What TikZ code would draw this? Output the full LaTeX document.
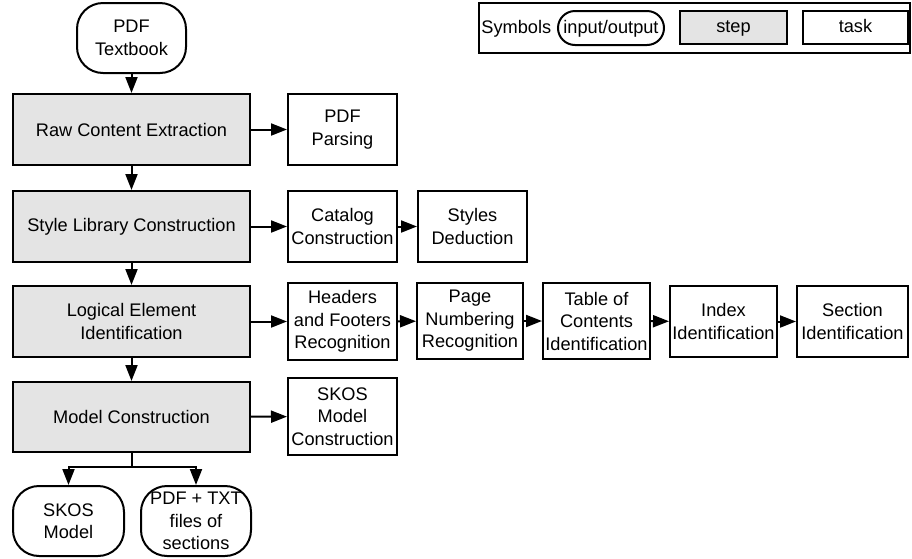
\documentclass[tikz,border=0pt]{standalone}
\usepackage{fontspec}
\setmainfont{Liberation Sans}
\usetikzlibrary{arrows.meta}
\definecolor{stepfill}{RGB}{228,228,228}
\begin{document}
\begin{tikzpicture}[
  x=0.5pt, y=-0.5pt,
  every node/.style={font=\fontsize{9.1}{11.25}\selectfont, align=center, inner sep=0pt},
  boxline/.style={draw=black, line width=1pt},
  stepbox/.style={boxline, fill=stepfill, minimum width=118.5pt, minimum height=35.5pt},
  taskbox/.style={boxline, fill=white, minimum width=54.5pt, minimum height=35.5pt},
  iobox/.style={boxline, fill=white, rounded corners=13pt, minimum width=54.5pt, minimum height=35pt},
  legtext/.style={text height=7pt, text depth=2pt},
  flow/.style={line width=1pt, -{Triangle[length=8pt,width=6pt]}},
  plain/.style={line width=1pt}
]
\useasboundingbox (0,0) rectangle (912,558);

% main column of steps
\node[iobox] (tb) at (131.5,38) {PDF\\Textbook};
\node[stepbox] (raw) at (131.5,129.5) {Raw Content Extraction};
\node[stepbox] (style) at (131.5,226.5) {Style Library Construction};
\node[stepbox] (logic) at (131.5,321.5) {Logical Element\\Identification};
\node[stepbox, minimum height=35pt] (model) at (131.5,417) {Model Construction};

% tasks of each step
\node[taskbox] (parse) at (342.5,129.5) {PDF\\Parsing};
\node[taskbox] (catalog) at (342.5,226.5) {Catalog\\Construction};
\node[taskbox] (deduct) at (472.5,226.5) {Styles\\Deduction};
\node[taskbox, minimum height=38.5pt] (headers) at (342.5,321.5) {Headers\\and Footers\\Recognition};
\node[taskbox, minimum width=53pt, minimum height=38pt] (pagenum) at (470,321) {Page\\Numbering\\Recognition};
\node[taskbox, minimum width=53.5pt, minimum height=38pt] (toc) at (596.5,321) {Table of\\Contents\\Identification};
\node[taskbox, minimum width=53.5pt] (index) at (723.5,321.5) {Index\\Identification};
\node[taskbox, minimum width=55.5pt] (section) at (852.5,321.5) {Section\\Identification};
\node[taskbox, minimum height=38.5pt] (skosmc) at (342.5,416.5) {SKOS\\Model\\Construction};

% outputs
\node[iobox, minimum width=55.5pt] (skosm) at (68.5,521) {SKOS\\Model};
\node[iobox, minimum width=55pt] (pdftxt) at (196,521) {PDF + TXT\\files of\\sections};

% connectors
\draw[flow] (tb) -- (raw);
\draw[flow] (raw) -- (style);
\draw[flow] (style) -- (logic);
\draw[flow] (logic) -- (model);
\draw[flow] (raw) -- (parse);
\draw[flow] (style) -- (catalog);
\draw[flow] (catalog) -- (deduct);
\draw[flow] (logic) -- (headers);
\draw[flow] (headers) -- (pagenum);
\draw[flow] (pagenum) -- (toc);
\draw[flow] (toc) -- (index);
\draw[flow] (index) -- (section);
\draw[flow] (model) -- (skosmc);
\coordinate (fork) at (131.5,467);
\draw[plain] (model.south) -- (fork);
\draw[flow] (fork) -| (skosm.north);
\draw[flow] (fork) -| (pdftxt.north);

% legend
\node[boxline, minimum width=215.5pt, minimum height=25pt] (legend) at (694.5,28) {};
\node[legtext, anchor=west] (symlabel) at (481,28) {Symbols};
\node[legtext, boxline, rounded corners=8.5pt, minimum width=53pt, minimum height=17pt] (legio) at (611,28) {input/output};
\node[legtext, boxline, fill=stepfill, minimum width=53.5pt, minimum height=16.5pt] (legstep) at (733.5,27.5) {step};
\node[legtext, boxline, minimum width=52.5pt, minimum height=16.5pt] (legtask) at (855.5,27.5) {task};
\end{tikzpicture}
\end{document}
